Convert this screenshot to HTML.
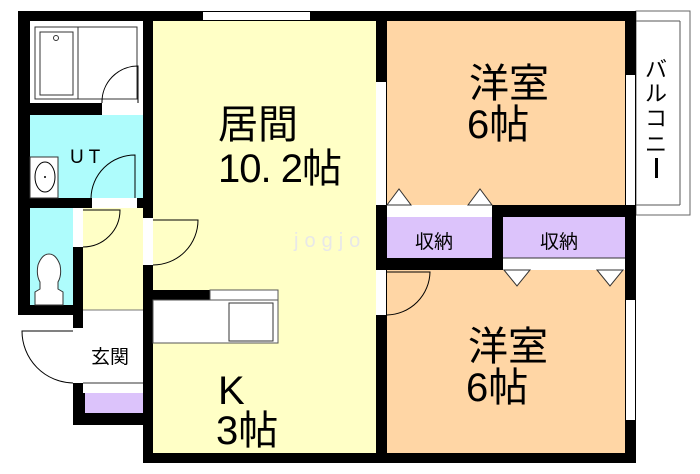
<!DOCTYPE html>
<html><head><meta charset="utf-8"><style>
html,body{margin:0;padding:0;background:#fff;width:700px;height:474px;overflow:hidden}
svg{display:block}
text{font-family:"Liberation Sans","Noto Sans CJK JP",sans-serif;fill:#000}
</style></head><body>
<svg width="700" height="474" viewBox="0 0 700 474" xmlns="http://www.w3.org/2000/svg">
<!-- balcony -->
<rect x="636" y="11" width="54" height="204" fill="#fff" stroke="#666" stroke-width="1"/>
<line x1="680" y1="21" x2="680" y2="205" stroke="#555"/>
<line x1="636" y1="21" x2="680" y2="21" stroke="#555"/>
<line x1="636" y1="205" x2="680" y2="205" stroke="#555"/>
<!-- black base walls -->
<rect x="18" y="11" width="135" height="304" fill="#000"/>
<rect x="73" y="300" width="80" height="125" fill="#000"/>
<rect x="143" y="11" width="493" height="452" fill="#000"/>
<!-- rooms -->
<rect x="153" y="21" width="223" height="432" fill="#ffffc6"/>
<rect x="387" y="21" width="238" height="184" fill="#ffd6a5"/>
<rect x="387" y="270" width="238" height="183" fill="#ffd6a5"/>
<rect x="387" y="217" width="105" height="41" fill="#dcc3fb"/>
<rect x="503" y="217" width="122" height="41" fill="#dcc3fb"/>
<rect x="503" y="258" width="122" height="12" fill="#fff"/>
<line x1="503" y1="258" x2="625" y2="258" stroke="#333"/>
<rect x="387" y="205" width="105" height="12" fill="#fff"/>
<!-- bath -->
<rect x="30" y="21" width="113" height="82" fill="#fff"/>
<rect x="35" y="27" width="102" height="72" fill="none" stroke="#333"/>
<rect x="40" y="32" width="33" height="63" fill="none" stroke="#333"/>
<line x1="78" y1="27" x2="78" y2="99" stroke="#333"/>
<circle cx="56" cy="38" r="2.5" fill="none" stroke="#333"/>
<rect x="102" y="103" width="41" height="12" fill="#fff"/>
<path d="M102 103 A36 36 0 0 1 138 66 L138 103" fill="none" stroke="#000"/>
<!-- UT -->
<rect x="30" y="115" width="113" height="83" fill="#aefcfc"/>
<rect x="30" y="157" width="28" height="41" fill="#fff" stroke="#333"/>
<ellipse cx="45" cy="177" rx="10" ry="15" fill="none" stroke="#000"/>
<circle cx="45" cy="177" r="1" fill="#000"/>
<text x="70" y="163" font-size="19">U T</text>
<rect x="92" y="198" width="45" height="10" fill="#fff"/>
<path d="M91 198 A44 44 0 0 1 135 155 L135 198" fill="none" stroke="#000"/>
<!-- toilet -->
<rect x="30" y="208" width="43" height="97" fill="#aefcfc"/>
<path d="M35 305 L35 292 L40 289 L40 282 Q36 275 38 265 Q42 254 49 254 Q56 254 60 265 Q62 275 58 282 L58 289 L63 292 L63 305 Z" fill="#fff" stroke="#333"/>
<rect x="73" y="208" width="10" height="39" fill="#fff"/>
<!-- hall -->
<rect x="83" y="208" width="60" height="102" fill="#ffffc6"/>
<path d="M83 247 A37 37 0 0 0 120 210 L83 210" fill="none" stroke="#000"/>
<!-- genkan -->
<rect x="83" y="310" width="60" height="83" fill="#fff"/>
<line x1="83" y1="310" x2="143" y2="310" stroke="#777"/>
<line x1="83" y1="383" x2="143" y2="383" stroke="#333"/>
<rect x="85" y="393" width="58" height="20" fill="#dcc3fb"/>
<rect x="73" y="328" width="10" height="55" fill="#fff"/>
<path d="M73 383 A52 52 0 0 1 22 331 L73 331" fill="none" stroke="#000"/>
<text x="91" y="363" font-size="19">玄関</text>
<!-- living door -->
<rect x="143" y="218" width="10" height="47" fill="#fff"/>
<path d="M153 265 A45 45 0 0 0 198 220 L153 220" fill="none" stroke="#000"/>
<!-- top window -->
<rect x="203" y="12" width="107" height="8" fill="#fff"/>
<!-- kitchen counter -->
<rect x="153" y="290" width="57" height="10" fill="#000"/>
<rect x="210" y="290" width="68" height="53" fill="#fff" stroke="#555"/>
<rect x="153" y="300" width="125" height="43" fill="#fff" stroke="#555"/>
<rect x="229" y="303" width="44" height="38" fill="#fff" stroke="#333"/>
<!-- windows on room walls -->
<rect x="376" y="82" width="10" height="123" fill="#fff"/>
<rect x="376" y="270" width="10" height="45" fill="#fff"/>
<path d="M387 315 A44 44 0 0 0 430 272 L387 272" fill="none" stroke="#000"/>
<rect x="626" y="75" width="9" height="130" fill="#fff"/>
<rect x="626" y="300" width="9" height="120" fill="#fff"/>
<!-- closet triangles -->
<path d="M387 205 L399 189 L411 205 Z" fill="#fff" stroke="#333"/>
<path d="M468 205 L480 189 L492 205 Z" fill="#fff" stroke="#333"/>
<path d="M504 270 L517 286 L530 270 Z" fill="#fff" stroke="#333"/>
<path d="M597 270 L610 286 L623 270 Z" fill="#fff" stroke="#333"/>
<!-- labels -->
<text x="218" y="138" font-size="40">居間</text>
<text x="218" y="182" font-size="40" letter-spacing="-1">10. 2帖</text>
<text x="218" y="404" font-size="40">K</text>
<text x="216" y="444" font-size="40">3帖</text>
<text x="469" y="97" font-size="40">洋室</text>
<text x="467" y="138" font-size="40">6帖</text>
<text x="468" y="360" font-size="40">洋室</text>
<text x="466" y="401" font-size="40">6帖</text>
<text x="415" y="248" font-size="19">収納</text>
<text x="540" y="248" font-size="19">収納</text>
<text x="294" y="247" font-size="20" fill="#eee" style="fill:#e8e8e8" letter-spacing="6">jogjo</text>
<text x="645" y="77" font-size="22">バ</text>
<text x="645" y="101" font-size="22">ル</text>
<text x="645" y="126" font-size="22">コ</text>
<text x="645" y="152" font-size="22">ニ</text>
<rect x="655" y="158" width="3" height="20" fill="#000"/>
</svg>
</body></html>
